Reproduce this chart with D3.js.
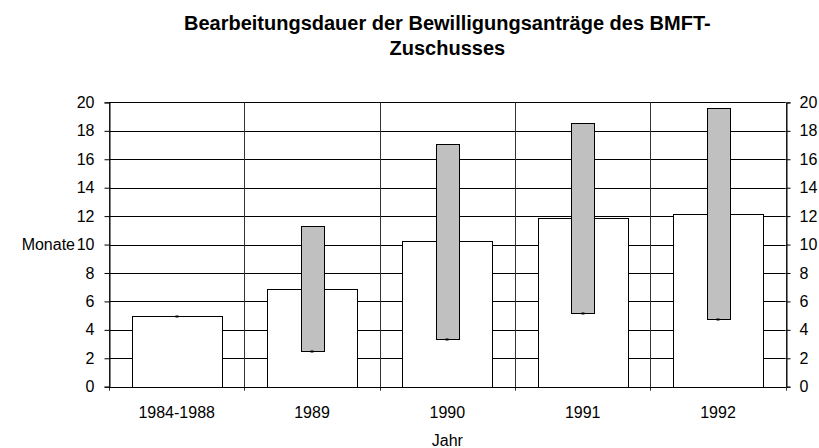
<!DOCTYPE html>
<html>
<head>
<meta charset="utf-8">
<script src="https://cdn.jsdelivr.net/npm/d3@7/dist/d3.min.js"></script>
<style>
  html, body { margin: 0; padding: 0; background: #fff; }
  svg { display: block; }
  text { font-family: "Liberation Sans", Arial, sans-serif; fill: #000; }
</style>
</head>
<body>
<svg id="chart" width="819" height="448"></svg>
<script>
// ---- data ----
const categories = ["1984-1988", "1989", "1990", "1991", "1992"];
const avgMonths = [5.0, 6.9, 10.25, 11.9, 12.15];      // white bars
const minMonths = [5.0, 2.5, 3.35, 5.2, 4.75];         // grey range bottom
const maxMonths = [5.0, 11.3, 17.05, 18.55, 19.6];     // grey range top
const yTicks = [0, 2, 4, 6, 8, 10, 12, 14, 16, 18, 20];
const titleLines = ["Bearbeitungsdauer der Bewilligungsanträge des BMFT-", "Zuschusses"];
const yLabel = "Monate";
const xLabel = "Jahr";

// ---- layout ----
const svg = d3.select("#chart");
const pL = 109, pR = 785.7, pT = 102.4, pB = 386.7;

const x = d3.scaleBand().domain(categories).range([pL, pR]).padding(0);
const y = d3.scaleLinear().domain([0, 20]).range([pB, pT]);

const bw = x.bandwidth();
const whiteW = bw * 0.667;
const greyW = bw * 0.168;

// horizontal gridlines
svg.append("g").selectAll("line").data(yTicks).join("line")
  .attr("x1", pL).attr("x2", pR)
  .attr("y1", d => Math.round(y(d)) + 0.5).attr("y2", d => Math.round(y(d)) + 0.5)
  .attr("stroke", "#000").attr("stroke-width", 1);

// vertical gridlines at category boundaries
const bounds = categories.map(c => x(c)).concat([pR]);
svg.append("g").selectAll("line").data(bounds).join("line")
  .attr("x1", d => Math.round(d) + 0.5).attr("x2", d => Math.round(d) + 0.5)
  .attr("y1", pT).attr("y2", pB + 4)
  .attr("stroke", "#333").attr("stroke-width", 1);

// white bars (average)
svg.append("g").selectAll("rect").data(categories).join("rect")
  .attr("x", (c) => Math.round(x(c) + (bw - whiteW) / 2) + 0.5)
  .attr("width", Math.round(whiteW))
  .attr("y", (c, i) => Math.round(y(avgMonths[i])) + 0.5)
  .attr("height", (c, i) => Math.round(y(0)) - Math.round(y(avgMonths[i])))
  .attr("fill", "#fff").attr("stroke", "#000").attr("stroke-width", 1);

// grey range bars
svg.append("g").selectAll("rect").data(categories).join("rect")
  .attr("x", (c) => Math.round(x(c) + (bw - greyW) / 2) + 0.5)
  .attr("width", Math.round(greyW))
  .attr("y", (c, i) => Math.round(y(maxMonths[i])) + 0.5)
  .attr("height", (c, i) => Math.round(y(minMonths[i])) - Math.round(y(maxMonths[i])))
  .attr("fill", "#c0c0c0").attr("stroke", "#000").attr("stroke-width", 1);

// small marks at range minimum
svg.append("g").selectAll("rect").data(categories).join("rect")
  .attr("x", c => Math.round(x(c) + bw / 2) - 1.5)
  .attr("width", 3)
  .attr("y", (c, i) => Math.round(y(minMonths[i])) - 0.5)
  .attr("height", 2)
  .attr("fill", "#000");

// bottom axis line
svg.append("line")
  .attr("x1", pL).attr("x2", pR)
  .attr("y1", Math.round(pB) + 0.5).attr("y2", Math.round(pB) + 0.5)
  .attr("stroke", "#000");

// left axis
const yAxisL = d3.axisLeft(y).tickValues(yTicks).tickSize(5).tickPadding(10).tickFormat(d3.format("d"));
const gl = svg.append("g").attr("transform", `translate(${Math.round(pL) + 0.5},0)`).call(yAxisL);
gl.select(".domain").attr("stroke", "#000");
gl.selectAll(".tick line").attr("stroke", "#000");
gl.selectAll("text").style("font-size", "16px").attr("fill", "#000").attr("font-family", "Liberation Sans, Arial, sans-serif");

// right axis
const yAxisR = d3.axisRight(y).tickValues(yTicks).tickSize(4).tickPadding(9).tickFormat(d3.format("d"));
const gr = svg.append("g").attr("transform", `translate(${Math.round(pR) + 0.5},0)`).call(yAxisR);
gr.select(".domain").attr("stroke", "#000");
gr.selectAll(".tick line").attr("stroke", "#000");
gr.selectAll("text").style("font-size", "16px").attr("fill", "#000").attr("font-family", "Liberation Sans, Arial, sans-serif");

// category labels
svg.append("g").selectAll("text").data(categories).join("text")
  .attr("x", c => x(c) + bw / 2).attr("y", 418)
  .attr("text-anchor", "middle").style("font-size", "16px")
  .text(c => c);

// axis titles
svg.append("text").attr("x", 75).attr("y", 250).attr("text-anchor", "end")
  .style("font-size", "16px").text(yLabel);
svg.append("text").attr("x", (pL + pR) / 2).attr("y", 446).attr("text-anchor", "middle")
  .style("font-size", "16px").text(xLabel);

// title
svg.append("g").selectAll("text").data(titleLines).join("text")
  .attr("x", (pL + pR) / 2).attr("y", (d, i) => 30 + i * 25)
  .attr("text-anchor", "middle").style("font-size", "20px").style("font-weight", "bold")
  .text(d => d);
</script>
</body>
</html>
